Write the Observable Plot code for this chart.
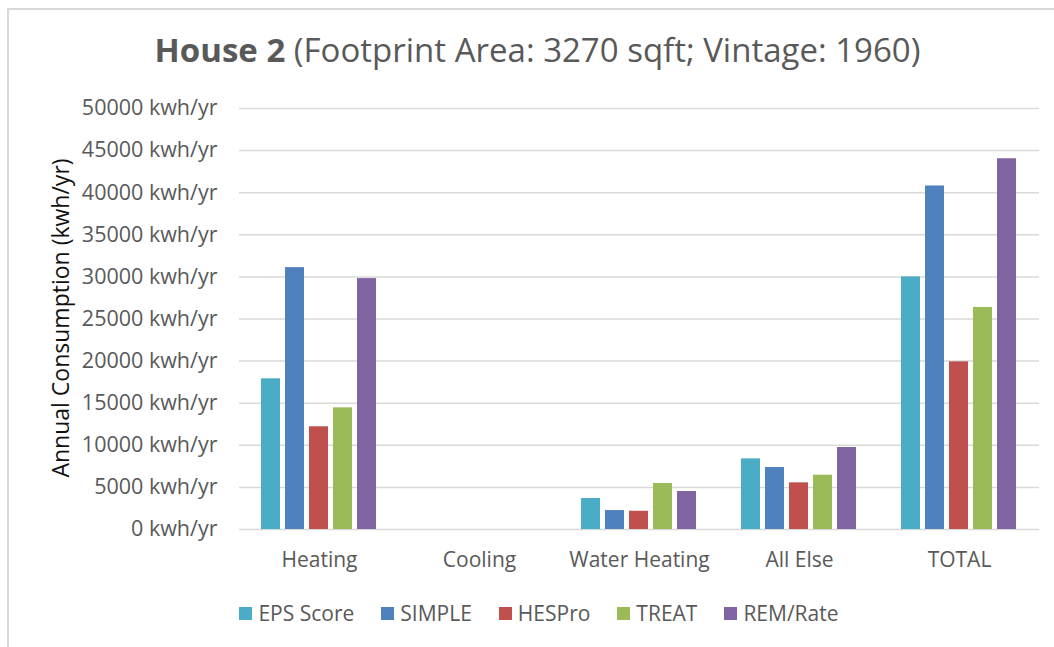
<!DOCTYPE html>
<html>
<head>
<meta charset="utf-8">
<script src="https://cdn.jsdelivr.net/npm/d3@7"></script>
<script src="https://cdn.jsdelivr.net/npm/@observablehq/plot@0.6"></script>
<style>
  html, body { margin: 0; padding: 0; background: #fff; }
  #wrap { position: relative; width: 1054px; height: 647px; overflow: hidden; font-family: "Open Sans", sans-serif; }
  #border { position: absolute; left: 7px; top: 8px; width: 1100px; height: 700px; border-left: 2px solid #d9d9d9; border-top: 2px solid #d9d9d9; }
  #title { position: absolute; left: 0; width: 1075px; top: 27px; line-height: 45px; text-align: center; font-size: 33px; color: #595959; white-space: nowrap; }
  #title b { font-weight: 700; }
  #ylab { position: absolute; left: 60px; top: 318px; transform: translate(-50%, -50%) rotate(-90deg); font-size: 23px; color: #111; white-space: nowrap; }
  #chart { position: absolute; left: 0; top: 0; }
  #legend { position: absolute; top: 598px; left: 0; width: 1078px; display: flex; justify-content: center; gap: 27px; font-size: 21px; line-height: 30px; color: #595959; }
  #legend .item { display: flex; align-items: center; gap: 6px; }
  #legend .sw { width: 13px; height: 13px; display: inline-block; }
</style>
</head>
<body>
<div id="wrap">
  <div id="border"></div>
  <div id="chart"></div>
  <div id="title"><b>House 2</b> (Footprint Area: 3270 sqft; Vintage: 1960)</div>
  <div id="ylab">Annual Consumption (kwh/yr)</div>
  <div id="legend"></div>
</div>
<script>
const categories = ["Heating", "Cooling", "Water Heating", "All Else", "TOTAL"];
const models = ["EPS Score", "SIMPLE", "HESPro", "TREAT", "REM/Rate"];
const colors = ["#4BACC6", "#4F81BD", "#C0504D", "#9BBB59", "#8064A2"];
const epsScore = [17900, 0, 3680, 8390, 30000];
const simple = [31100, 0, 2250, 7360, 40800];
const hesPro = [12200, 0, 2170, 5540, 19910];
const treat = [14450, 0, 5460, 6450, 26370];
const remRate = [29800, 0, 4510, 9740, 44030];
const yTicks = [0, 5000, 10000, 15000, 20000, 25000, 30000, 35000, 40000, 45000, 50000];

const series = [epsScore, simple, hesPro, treat, remRate];
const data = [];
categories.forEach((c, i) => {
  models.forEach((m, j) => {
    data.push({category: c, model: m, value: series[j][i]});
  });
});

const plot = Plot.plot({
  width: 1054,
  height: 580,
  marginLeft: 239,
  marginRight: 15,
  marginTop: 108,
  marginBottom: 51,
  style: {fontFamily: "Open Sans, sans-serif", fontSize: "21px", color: "#595959", background: "transparent", overflow: "visible"},
  fx: {domain: categories, padding: 0, label: null, tickSize: 0, tickPadding: 23},
  x: {domain: models, paddingInner: 0.2, paddingOuter: 0.865, axis: null},
  y: {domain: [0, 50000], label: null},
  color: {domain: models, range: colors},
  marks: [
    Plot.gridY(yTicks, {stroke: "#d9d9d9", strokeOpacity: 1, strokeWidth: 1.5}),
    Plot.axisY(yTicks, {tickSize: 0, tickPadding: 22, tickFormat: d => d + " kwh/yr", label: null, fontSize: 21.5}),
    Plot.barY(data, {fx: "category", x: "model", y: "value", fill: "model"})
  ]
});
document.getElementById("chart").appendChild(plot);

const legend = document.getElementById("legend");
models.forEach((m, j) => {
  const item = document.createElement("div");
  item.className = "item";
  const sw = document.createElement("span");
  sw.className = "sw";
  sw.style.background = colors[j];
  const t = document.createElement("span");
  t.textContent = m;
  item.appendChild(sw);
  item.appendChild(t);
  legend.appendChild(item);
});
</script>
</body>
</html>
